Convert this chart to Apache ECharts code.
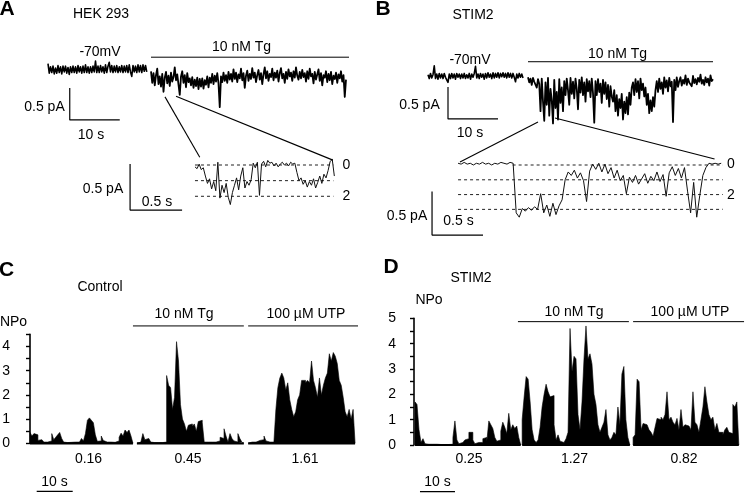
<!DOCTYPE html>
<html><head><meta charset="utf-8">
<script src="https://cdn.jsdelivr.net/npm/echarts@6/dist/echarts.min.js"></script>
<style>html,body{margin:0;padding:0;background:#fff}#c{width:745px;height:494px}</style>
</head><body><div id="c"></div>
<script>
// ---------------- DATA ----------------
// Panel A: HEK 293 current traces (pA), sampled every 0.25 s (main) / 0.02 s (inset)
const aBaseline = [0.10,-0.05,0.05,-0.04,0.06,-0.06,0.03,-0.05,0.07,-0.04,
 0.05,-0.06,0.06,-0.03,0.06,-0.05,0.04,-0.07,0.05,-0.04,
 0.06,-0.04,0.05,-0.05,0.07,-0.03,0.05,-0.05,0.06,-0.04,
 0.08,-0.04,0.05,-0.05,0.05,-0.04,0.06,-0.03,0.14,-0.04,
 0.06,-0.04,0.07,-0.03,0.05,-0.05,0.08,-0.04,0.06,0.12,
 -0.03,0.07,-0.04,0.06,-0.03,0.07,-0.04,0.05,-0.03,0.07,
 -0.04,0.06,-0.03,0.07,-0.04,0.08,-0.03,-0.10,0.07,-0.03,
 0.06,-0.04,0.08,-0.03,0.07,-0.04,0.08,-0.02,0.07,-0.03];
const aTg = [-0.02,-0.20,-0.05,-0.24,-0.08,0.02,-0.22,-0.10,-0.26,-0.06,-0.34,-0.12,-0.03,-0.21,-0.09,-0.25,-0.04,-0.18,-0.11,0.04,
 -0.16,-0.07,-0.23,-0.39,-0.10,-0.02,-0.20,-0.08,-0.27,-0.05,-0.19,-0.13,-0.24,-0.11,-0.28,-0.15,-0.25,-0.12,-0.30,-0.14,
 -0.26,-0.13,-0.29,-0.16,-0.23,-0.10,-0.27,-0.12,-0.20,-0.06,-0.22,-0.09,-0.18,-0.05,-0.21,-0.58,-0.10,-0.19,-0.04,-0.17,
 -0.08,-0.20,-0.03,-0.15,-0.06,-0.18,0.01,-0.14,-0.04,-0.19,-0.07,-0.13,0.02,-0.16,-0.05,-0.28,-0.09,-0.01,-0.17,-0.06,
 -0.14,0.03,-0.12,-0.04,-0.19,-0.08,0.00,-0.15,-0.05,-0.22,-0.07,0.04,-0.13,-0.02,-0.17,-0.06,-0.11,0.02,-0.16,-0.04,
 -0.12,-0.01,-0.18,-0.05,0.03,-0.13,-0.06,-0.20,-0.03,-0.14,0.01,-0.10,-0.04,-0.17,-0.02,-0.12,0.04,-0.09,-0.15,-0.03,
 -0.13,0.00,-0.11,-0.05,-0.18,-0.02,-0.14,0.02,-0.10,-0.06,-0.21,-0.03,-0.15,-0.07,0.01,-0.17,-0.05,-0.24,-0.08,-0.12,
 -0.02,-0.19,-0.06,-0.16,-0.03,-0.22,-0.09,-0.14,-0.04,-0.20,-0.07,-0.13,-0.02,-0.18,-0.08,-0.42,-0.15];
const aInset = [-0.02,-0.04,0.01,-0.05,-0.03,-0.12,-0.20,-0.15,-0.26,-0.18,
 -0.28,0.03,-0.36,-0.22,-0.30,-0.20,-0.35,-0.43,-0.30,-0.22,
 -0.14,-0.27,-0.12,-0.03,-0.25,-0.18,-0.22,-0.16,0.02,-0.03,
 0.03,-0.33,0.01,0.04,-0.02,0.05,0.02,0.03,-0.01,0.02,
 -0.02,0.01,0.03,0.00,0.02,-0.01,0.03,0.01,0.02,-0.08,
 -0.17,-0.14,-0.21,-0.17,-0.24,-0.18,-0.22,-0.15,-0.25,-0.19,
 -0.12,-0.20,-0.10,-0.14,-0.06,0.04,0.06,-0.12];
// Panel B: STIM2 current traces (pA), every 0.25 s (main) / 0.03 s (inset)
const bBaseline = [0.02,-0.04,0.04,-0.03,0.02,0.16,-0.04,0.03,-0.05,0.04,-0.03,0.03,-0.04,0.04,-0.02,-0.05,-0.10,0.03,-0.04,0.04,
 -0.03,0.03,-0.05,0.04,-0.02,0.03,-0.04,0.03,-0.03,0.04,-0.04,0.02,-0.03,0.04,-0.05,0.03,-0.02,0.04,0.15,-0.03,
 0.03,-0.04,0.04,-0.02,0.03,-0.05,0.04,-0.03,0.05,-0.02,0.03,-0.04,0.05,-0.03,0.04,-0.02,0.05,-0.03,0.04,-0.01,
 0.05,-0.02,0.04,-0.03,0.05,-0.02,0.04,-0.03,0.04,-0.02,-0.09,0.03,-0.03,0.04,-0.02,0.03,-0.03];
const bTg = [-0.02,-0.10,-0.04,-0.14,-0.03,-0.09,-0.06,-0.18,-0.05,
 -0.12,-0.55,-0.04,-0.40,-0.70,-0.10,-0.45,-0.03,-0.62,-0.20,-0.38,-0.74,-0.06,-0.50,-0.25,-0.68,-0.05,-0.42,-0.18,-0.55,-0.08,
 -0.30,-0.04,-0.22,-0.45,-0.03,-0.28,-0.09,-0.35,-0.04,-0.20,-0.52,-0.06,-0.26,-0.02,-0.30,-0.10,-0.40,-0.05,-0.24,-0.08,
 -0.33,-0.04,-0.27,-0.73,-0.08,-0.30,-0.05,-0.25,-0.12,-0.42,-0.06,-0.28,-0.10,-0.36,-0.14,-0.48,-0.16,-0.32,
 -0.40,-0.22,-0.55,-0.30,-0.62,-0.36,-0.50,-0.28,-0.68,-0.40,-0.58,-0.33,-0.60,-0.26,-0.45,-0.18,
 -0.10,-0.30,-0.05,-0.25,-0.08,-0.35,-0.04,-0.22,-0.12,-0.32,-0.18,
 -0.45,-0.28,-0.58,-0.38,-0.55,-0.33,-0.48,-0.22,
 -0.08,-0.25,-0.04,-0.20,-0.10,-0.28,-0.02,-0.18,-0.07,-0.24,-0.03,-0.16,-0.09,-0.72,-0.06,-0.22,-0.02,-0.17,-0.08,
 -0.02,-0.15,-0.06,-0.12,0.01,-0.14,-0.04,-0.10,-0.07,-0.16,0.00,-0.11,-0.05,-0.13,-0.03,-0.09,0.02,-0.12,-0.06,-0.14,
 -0.02,-0.10,-0.04,-0.15,0.01,-0.08,-0.05];
const bInset = [0.02,0.01,0.03,0.01,0.02,0.00,0.02,0.01,0.03,0.01,0.02,0.00,0.02,0.01,0.03,0.02,0.01,0.03,0.02,
 -0.55,-0.60,-0.50,-0.53,-0.49,-0.52,-0.48,-0.51,-0.33,-0.55,-0.46,-0.59,-0.44,-0.57,-0.47,-0.40,
 -0.17,-0.08,-0.12,-0.06,-0.15,-0.09,-0.18,-0.42,-0.07,0.01,-0.05,0.02,-0.08,0.01,-0.10,-0.03,
 -0.15,-0.06,-0.18,-0.12,-0.33,-0.14,-0.20,-0.12,-0.22,-0.16,-0.10,-0.21,-0.13,-0.18,-0.08,-0.19,
 -0.11,-0.36,-0.09,-0.02,-0.12,-0.04,-0.15,-0.03,-0.30,-0.55,-0.20,-0.60,-0.35,-0.12,-0.03,0.02,
 0.01,0.02,0.01,0.02];
// Single-channel unitary level (pA) for dashed level lines
const unitLevel = 0.17;
const aLevels = [0, 1, 2];
const bLevels = [0, 1, 2, 3];
const levelLabels = ['0', '2'];
// Panel C: NPo histograms, Control (HEK 293), 0.55 s bins
const cControl = [0.45,0.3,0.4,0.35,0.12,0.15,0.08,0.05,0.05,0.03,
 0.1,0.4,0.15,0.25,0.35,0.45,0.2,0.05,0.03,0.05,
 0.04,0.05,0.05,0.08,0.05,0.12,0.2,0.1,0.4,0.95,
 1.05,0.95,0.85,0.35,0.08,0.1,0.3,0.12,0.05,0.05,
 0.05,0.08,0.04,0.05,0.1,0.25,0.42,0.3,0.55,0.45,0.55,0.3];
const cTg = [0.05,0.05,0.1,0.4,0.15,0.2,0.18,0.05,0.03,0.03,
 0.03,0.03,0.03,0.05,0.05,2.8,2.4,2.3,1.4,1.9,
 4.2,3.4,1.6,1.0,0.8,0.5,0.75,0.8,0.7,0.8,
 0.5,0.9,0.95,0.85,0.05,0.05,0.04,0.05,0.04,0.05,
 0.05,0.1,0.25,0.2,0.6,0.3,0.05,0.4,0.2,0.1,0.05,0.4,0.2,0.05];
const cUtp = [0.05,0.05,0.08,0.05,0.1,0.12,0.2,0.15,0.3,0.1,
 0.05,0.05,0.05,0.05,1.4,2.3,2.7,2.9,2.7,2.2,
 2.5,1.8,1.4,1.1,1.3,1.8,2.0,2.6,2.6,2.5,
 2.6,2.5,3.4,2.6,2.3,1.9,2.7,2.0,2.4,2.7,
 2.9,3.7,3.4,3.75,3.6,3.3,2.6,2.4,1.9,1.3,1.1,1.4,1.0,1.4];
// Panel D: NPo histograms, STIM2, 0.57 s bins
const dControl = [1.7,1.6,0.6,0.1,0.25,0.05,
 0.03,0.02,0.03,0.02,0.03,0.03,0.02,0.03,0.02,0.03,0.02,0.03,0.03,
 0.3,0.95,0.2,0.05,0.1,0.05,0.2,0.25,0.5,0.5,0.2,0.05,0.1,0.15,0.1,0.25,0.3,0.15,
 0.95,0.8,0.65,0.3,0.15,0.2,0.55,0.9,0.7,0.45,1.25,0.6,0.8,0.65,0.75,0.3];
const dTg = [1.0,1.9,2.7,2.6,1.7,0.6,0.2,0.1,0.2,0.7,
 1.5,2.0,2.4,2.1,1.9,1.95,0.8,0.2,0.4,0.15,
 0.1,0.05,0.25,0.5,4.6,2.9,3.5,3.4,1.2,0.6,
 1.7,3.4,4.7,3.4,3.6,3.2,2.0,1.6,0.8,0.5,
 0.7,0.9,1.4,0.4,0.2,0.3,0.5,0.4,1.5,0.8,2.8,3.1,1.0,0.3];
const dUtp = [0.3,0.4,2.6,2.5,0.6,0.85,0.8,0.85,0.6,0.5,
 0.35,0.7,1.05,1.0,1.1,1.0,1.2,2.1,1.0,1.1,
 0.9,0.8,1.05,0.6,1.4,0.7,0.8,0.75,0.8,0.6,
 2.1,0.9,0.8,0.5,1.0,1.5,2.3,1.7,1.2,1.0,
 1.1,0.6,0.85,0.5,0.5,0.4,0.6,0.7,0.5,0.45,1.6,1.5,1.7];
const cMeans = ['0.16', '0.45', '1.61'];
const dMeans = ['0.25', '1.27', '0.82'];
const cTickLabels = [0, 1, 2, 3, 4];
const dTickLabels = [0, 1, 2, 3, 4, 5];
const treatments = ['10 nM Tg', '100 µM UTP'];

// ---------------- LAYOUT ----------------
const FONT = '"Liberation Sans", Arial, Helvetica, sans-serif';
const G = [
  {left: 48,  zeroY: 70,    x: [0, 60.4], y: [-1, 0.5],   px: 5,   py: 64},    // 0 A main
  {left: 128, zeroY: 165,   x: [0, 2.05], y: [-0.6, 0.2], px: 104, py: 92},    // 1 A inset
  {left: 428, zeroY: 76,    x: [0, 58],   y: [-1.5, 0.5], px: 5,   py: 64},    // 2 B main
  {left: 430, zeroY: 165,   x: [0, 2.95], y: [-0.9, 0.2], px: 102, py: 87},    // 3 B inset
  {left: 30,  zeroY: 443.3, x: [0, 90.6], y: [0, 4.5],    px: 3.6, py: 24.2},  // 4 C
  {left: 414, zeroY: 445,   x: [0, 94.5], y: [0, 5],      px: 3.5, py: 25.33}  // 5 D
];
const grids = G.map(g => ({
  left: g.left, top: g.zeroY - g.y[1] * g.py,
  width: (g.x[1] - g.x[0]) * g.px, height: (g.y[1] - g.y[0]) * g.py,
  containLabel: false, outerBoundsMode: 'none'
}));
const xAxes = G.map((g, i) => ({type: 'value', gridIndex: i, min: g.x[0], max: g.x[1], show: false}));
const yAxes = G.map((g, i) => {
  if (i < 4) return {type: 'value', gridIndex: i, min: g.y[0], max: g.y[1], show: false};
  const labels = i === 4 ? cTickLabels : dTickLabels;
  return {
    type: 'value', gridIndex: i, min: g.y[0], max: g.y[1], interval: 0.5,
    axisLine: {show: true, lineStyle: {color: '#000', width: 1.6}},
    axisTick: {show: true, length: 4, lineStyle: {color: '#000', width: 1.4}},
    splitLine: {show: false},
    axisLabel: {show: true, color: '#000', fontSize: 14, fontFamily: FONT, margin: i === 4 ? 20 : 18,
      formatter: v => labels.indexOf(v) >= 0 ? String(v) : ''}
  };
});

const series = [];
function lineS(gi, pts, w, extra) {
  series.push(Object.assign({
    type: 'line', xAxisIndex: gi, yAxisIndex: gi, data: pts, symbol: 'none', showSymbol: false,
    lineStyle: {color: '#000', width: w}, clip: false, silent: true, animation: false, z: 3
  }, extra || {}));
}
function trace(gi, vals, t0, dt, w, color) {
  lineS(gi, vals.map((v, i) => [t0 + i * dt, v]), w, {lineStyle: {color: color || '#000', width: w, join: 'round'}});
}
function hist(gi, vals, t0, bw) {
  const d = [[t0, 0]];
  vals.forEach((v, i) => { d.push([t0 + i * bw, v]); d.push([t0 + (i + 1) * bw, v]); });
  const tEnd = t0 + vals.length * bw;
  d.push([tEnd, 0]);
  lineS(gi, d, 0.6, {areaStyle: {color: '#000', opacity: 1}});
  lineS(gi, [[t0, 0], [tEnd, 0]], 2.2);
}
function scaleBar(gi, t, vTop, vBot, tLen, w) {
  lineS(gi, [[t, vTop], [t, vBot], [t + tLen, vBot]], w);
}

// Panel A
trace(0, aBaseline, 0, 0.25, 1.6);
trace(0, aTg, 20.6, 0.25, 1.8);
lineS(0, [[20.6, 0.2], [60.2, 0.2]], 1);
scaleBar(0, 4.35, -0.28, -0.78, 10, 1.2);
const aT0 = 0.644, aDt = 0.02, aT1 = 1.975;
aLevels.forEach(n => lineS(1, [[aT0, -n * unitLevel], [aT1, -n * unitLevel]], 1, {lineStyle: {color: '#222', width: 1, type: [3, 3]}, z: 2}));
trace(1, aInset, aT0, aDt, 1, '#111');
scaleBar(1, 0.02, 0.01, -0.49, 0.5, 1.2);

// Panel B
trace(2, bBaseline, 0, 0.25, 1.6);
trace(2, bTg, 20, 0.25, 1.8);
lineS(2, [[20, 0.223], [57, 0.223]], 1);
scaleBar(2, 4, -0.17, -0.67, 10, 1.2);
const bT0 = 0.275, bDt = 0.03, bT1 = 2.87;
bLevels.forEach(n => lineS(3, [[n === 0 ? 0.81 : bT0, -n * unitLevel], [bT1, -n * unitLevel]], 1, {lineStyle: {color: '#222', width: 1, type: [3, 3]}, z: 2}));
trace(3, bInset, bT0, bDt, 1, '#111');
scaleBar(3, 0.02, -0.305, -0.805, 0.5, 1.2);

// Panel C
const cStarts = [0, 29.7, 60.6], cBin = 0.55;
[cControl, cTg, cUtp].forEach((v, i) => hist(4, v, cStarts[i], cBin));
lineS(4, [[28.6, 4.85], [59.4, 4.85]], 1);
lineS(4, [[60.6, 4.85], [91.7, 4.85]], 1);
lineS(4, [[1.86, -1.99], [11.86, -1.99]], 1.2);

// Panel D
const dStarts = [0.29, 30.9, 62.6], dBin = 0.57;
[dControl, dTg, dUtp].forEach((v, i) => hist(5, v, dStarts[i], dBin));
lineS(5, [[29.7, 4.87], [61.4, 4.87]], 1);
lineS(5, [[62.6, 4.87], [94.3, 4.87]], 1);
lineS(5, [[1.71, -1.84], [11.71, -1.84]], 1.2);

const chart = echarts.init(document.getElementById('c'), null, {renderer: 'canvas'});
chart.setOption({animation: false, grid: grids, xAxis: xAxes, yAxis: yAxes, series: series});

// ---------------- TEXT & ZOOM LINES ----------------
function T(text, x, y, size, weight) {
  return {type: 'text', x: x, y: y, silent: true, z: 10,
    style: {text: text, fill: '#000', fontSize: size || 14, fontFamily: FONT, fontWeight: weight || 'normal',
      align: 'center', verticalAlign: 'middle', textAlign: 'center', textVerticalAlign: 'middle'}};
}
const texts = [
  T('A', 7, 9.5, 21, 'bold'), T('HEK 293', 101, 14), T('-70mV', 100, 52.5), T(treatments[0], 241.5, 47.5),
  T('0.5 pA', 44.5, 107.5), T('10 s', 91, 135), T('0.5 pA', 103, 189), T('0.5 s', 157, 202),
  T(levelLabels[0], 346.5, 165), T(levelLabels[1], 346.5, 196),
  T('B', 383, 9.5, 21, 'bold'), T('STIM2', 473, 15), T('-70mV', 470, 60), T(treatments[0], 617.5, 54),
  T('0.5 pA', 419.5, 105.5), T('10 s', 470, 133), T('0.5 pA', 407, 216), T('0.5 s', 458.5, 221),
  T(levelLabels[0], 731, 164), T(levelLabels[1], 731, 195),
  T('C', 6.5, 270, 21, 'bold'), T('Control', 100, 287), T('NPo', 13.5, 322),
  T(treatments[0], 184, 314), T(treatments[1], 306, 314),
  T(cMeans[0], 88.5, 459), T(cMeans[1], 188, 459), T(cMeans[2], 305, 459), T('10 s', 54.5, 482),
  T('D', 391, 267.5, 21, 'bold'), T('STIM2', 471, 278), T('NPo', 429, 300),
  T(treatments[0], 574, 312), T(treatments[1], 690, 312),
  T(dMeans[0], 469, 459), T(dMeans[1], 574.5, 459), T(dMeans[2], 684, 459), T('10 s', 437.5, 482)
];
const zoomLinks = [
  [0, [23.4, -0.42], 1, [0.69, 0.085]],
  [0, [25.6, -0.41], 1, [1.97, 0.053]],
  [2, [22.0, -0.72], 3, [0.294, 0.034]],
  [2, [25.4, -0.656], 3, [2.79, 0.069]]
];
const links = zoomLinks.map(l => {
  const p = chart.convertToPixel({gridIndex: l[0]}, l[1]);
  const q = chart.convertToPixel({gridIndex: l[2]}, l[3]);
  return {type: 'line', silent: true, z: 5, shape: {x1: p[0], y1: p[1], x2: q[0], y2: q[1]},
    style: {stroke: '#000', lineWidth: 1.1}};
});
chart.setOption({graphic: texts.concat(links)});
</script></body></html>
